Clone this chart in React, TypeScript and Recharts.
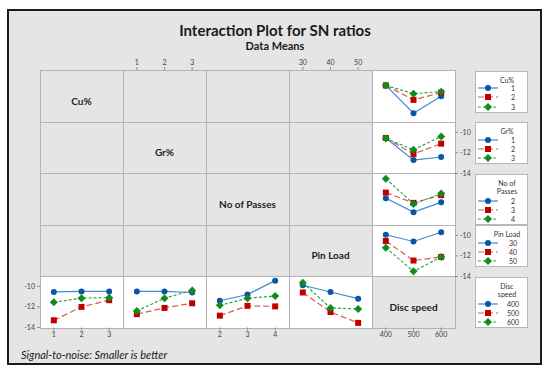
import { Line, LineChart, XAxis, YAxis } from 'recharts'

// factor levels
const discSpeed = [400, 500, 600]
const cuLevels = [1, 2, 3]
const grLevels = [1, 2, 3]
const passLevels = [2, 3, 4]
const pinLevels = [30, 40, 50]
const snTicks = [-10, -12, -14]

const factorNames = ['Cu%', 'Gr%', 'No of Passes', 'Pin Load', 'Disc speed']
const legendTitles = [['Cu%'], ['Gr%'], ['No of', 'Passes'], ['Pin Load'], ['Disc', 'speed']]

// SN ratio means vs disc speed (one row per level of the factor)
const cuBySpeed = [
  [-10.5, -13.2, -11.55],
  [-10.5, -11.9, -11.2],
  [-10.5, -11.3, -11.1],
]
const grBySpeed = [
  [-10.55, -12.7, -12.4],
  [-10.55, -12.1, -11.1],
  [-10.6, -11.7, -10.4],
]
const passBySpeed = [
  [-11.45, -12.8, -11.85],
  [-10.9, -11.9, -11.15],
  [-9.55, -12.0, -11.0],
]
const pinBySpeed = [
  [-9.95, -10.6, -9.7],
  [-10.55, -12.45, -12.1],
  [-11.2, -13.5, -12.1],
]

// SN ratio means vs factor (one row per disc speed)
const speedByCu = [
  [-10.55, -10.5, -10.5],
  [-13.3, -12.0, -11.35],
  [-11.55, -11.15, -11.1],
]
const speedByGr = [
  [-10.5, -10.5, -10.6],
  [-12.7, -12.1, -11.65],
  [-12.4, -11.15, -10.4],
]
const speedByPass = [
  [-11.4, -10.8, -9.45],
  [-12.85, -11.9, -11.95],
  [-11.85, -11.15, -10.95],
]
const speedByPin = [
  [-9.9, -10.55, -11.2],
  [-10.6, -12.5, -13.55],
  [-9.65, -12.1, -12.2],
]

const X0 = 40
const Y0 = 70
const CW = 83
const CH = 51.5
const M = 30
const AX = 20
const AY = 24

const LINE = ['#3b8ad8', '#e05656', '#25a84a']
const MARK = ['#0a55a8', '#c00000', '#118a1e']
const DASH = [undefined, '6 3', '3 2']
const FONT = 'Lato, "Open Sans", sans-serif'

function Marker({ cx, cy, k }: { cx: number; cy: number; k: number }) {
  if (cx == null || cy == null) return null
  if (k === 0) return <circle cx={cx} cy={cy} r={3} fill={MARK[0]} />
  if (k === 1) return <rect x={cx - 3} y={cy - 3} width={6} height={6} fill={MARK[1]} />
  return (
    <polygon
      points={`${cx},${cy - 4} ${cx + 4},${cy} ${cx},${cy + 4} ${cx - 4},${cy}`}
      fill={MARK[2]}
    />
  )
}

type PanelProps = {
  row: number
  col: number
  xs: number[]
  xDomain: [number, number]
  series?: number[][]
  top?: boolean
  bottom?: boolean
  left?: boolean
  right?: boolean
}

function Panel({ row, col, xs, xDomain, series = [], top, bottom, left, right }: PanelProps) {
  const data = xs.map((x, i) => {
    const d: Record<string, number> = { x }
    series.forEach((s, k) => {
      d['s' + k] = s[i]
    })
    return d
  })
  const tick = { fontSize: 7, fill: '#444' }
  return (
    <div style={{ position: 'absolute', left: X0 + col * CW - M, top: Y0 + row * CH - M }}>
      <LineChart
        width={CW + 2 * M}
        height={CH + 2 * M}
        data={data}
        margin={{
          top: M - (top ? AX : 0),
          bottom: M - (bottom ? AX : 0),
          left: M - (left ? AY : 0),
          right: M - (right ? AY : 0),
        }}
      >
        <XAxis
          type='number'
          dataKey='x'
          domain={xDomain}
          ticks={xs}
          interval={0}
          orientation={top ? 'top' : 'bottom'}
          hide={!top && !bottom}
          height={AX}
          tickSize={3}
          axisLine={false}
          tickLine={{ stroke: '#8c8c8c' }}
          tick={tick}
        />
        <YAxis
          type='number'
          domain={[-14, -9]}
          ticks={snTicks}
          interval={0}
          orientation={right ? 'right' : 'left'}
          hide={!left && !right}
          width={AY}
          tickSize={3}
          axisLine={false}
          tickLine={{ stroke: '#8c8c8c' }}
          tick={tick}
        />
        {series.map((_, k) => (
          <Line
            key={k}
            type='linear'
            dataKey={'s' + k}
            stroke={LINE[k]}
            strokeWidth={1.2}
            strokeDasharray={DASH[k]}
            dot={(p: any) => <Marker key={p.index} cx={p.cx} cy={p.cy} k={k} />}
            activeDot={false}
            isAnimationActive={false}
          />
        ))}
      </LineChart>
    </div>
  )
}

function LegendBox({ row, title, levels }: { row: number; title: string[]; levels: number[] }) {
  const entryStart = title.length === 1 ? 16.5 : 26
  return (
    <div
      style={{
        position: 'absolute',
        left: 475,
        top: Y0 + row * CH + 0.5,
        width: 53,
        height: entryStart + 25.5,
        background: '#fff',
        border: '1px solid #b8b8b8',
        boxSizing: 'border-box',
        fontSize: 7,
        color: '#333',
      }}
    >
      {title.map((t, i) => (
        <div
          key={t}
          style={{ position: 'absolute', left: 10, width: 42, top: 8 + i * 8.4 - 5, lineHeight: '10px', textAlign: 'center' }}
        >
          {t}
        </div>
      ))}
      {levels.map((lv, k) => (
        <div key={lv} style={{ position: 'absolute', left: 0, top: entryStart + k * 9.3 - 5, width: 53, height: 10 }}>
          <svg width={22} height={10} style={{ position: 'absolute', left: 1, top: 0 }}>
            <line x1={1} y1={5} x2={21} y2={5} stroke={LINE[k]} strokeWidth={1.2} strokeDasharray={DASH[k]} />
            <Marker cx={11} cy={5} k={k} />
          </svg>
          <span style={{ position: 'absolute', left: 28, width: 18, textAlign: 'center', lineHeight: '10px' }}>{lv}</span>
        </div>
      ))}
    </div>
  )
}

export default function App() {
  const isData = (r: number, c: number) => (c === 4 && r < 4) || (r === 4 && c < 4)
  const cells = []
  for (let r = 0; r < 5; r++) {
    for (let c = 0; c < 5; c++) {
      cells.push(
        <div
          key={`c${r}${c}`}
          style={{
            position: 'absolute',
            left: X0 + c * CW,
            top: Y0 + r * CH,
            width: CW + 1,
            height: CH + 1,
            boxSizing: 'border-box',
            border: '1px solid #b3b3b3',
            background: isData(r, c) ? '#fff' : 'transparent',
          }}
        />
      )
    }
  }
  const levelsList = [cuLevels, grLevels, passLevels, pinLevels, discSpeed]
  return (
    <div style={{ position: 'absolute', left: 0, top: 0, width: 550, height: 375, background: '#fff', fontFamily: FONT }}>
      <div
        style={{
          position: 'absolute',
          left: 7,
          top: 9,
          width: 535,
          height: 356,
          border: '2px solid #1c1c1c',
          background: '#e5e5e5',
          boxSizing: 'border-box',
        }}
      />
      <div style={{ position: 'absolute', left: 0, width: 550, top: 21, lineHeight: '18px', fontSize: 15, fontWeight: 700, textAlign: 'center', color: '#1a1a1a' }}>
        Interaction Plot for SN ratios
      </div>
      <div style={{ position: 'absolute', left: 0, width: 550, top: 39, lineHeight: '14px', fontSize: 11, fontWeight: 700, textAlign: 'center', color: '#1a1a1a' }}>
        Data Means
      </div>
      {cells}
      {factorNames.map((n, i) => (
        <div
          key={n}
          style={{
            position: 'absolute',
            left: X0 + i * CW,
            top: Y0 + i * CH + 5,
            width: CW,
            height: CH,
            display: 'flex',
            alignItems: 'center',
            justifyContent: 'center',
            fontSize: 10,
            fontWeight: 700,
            color: '#222',
          }}
        >
          {n}
        </div>
      ))}

      {/* axis-only cells */}
      <Panel row={0} col={0} xs={cuLevels} xDomain={[0.5, 3.5]} left />
      <Panel row={2} col={0} xs={cuLevels} xDomain={[0.5, 3.5]} left />
      <Panel row={0} col={1} xs={grLevels} xDomain={[0.5, 3.5]} top />
      <Panel row={0} col={3} xs={pinLevels} xDomain={[25, 55]} top />
      <Panel row={4} col={4} xs={discSpeed} xDomain={[350, 650]} bottom />

      {/* factor vs disc speed */}
      <Panel row={0} col={4} xs={discSpeed} xDomain={[350, 650]} series={cuBySpeed} />
      <Panel row={1} col={4} xs={discSpeed} xDomain={[350, 650]} series={grBySpeed} right />
      <Panel row={2} col={4} xs={discSpeed} xDomain={[350, 650]} series={passBySpeed} />
      <Panel row={3} col={4} xs={discSpeed} xDomain={[350, 650]} series={pinBySpeed} right />

      {/* disc speed vs factor */}
      <Panel row={4} col={0} xs={cuLevels} xDomain={[0.5, 3.5]} series={speedByCu} left bottom />
      <Panel row={4} col={1} xs={grLevels} xDomain={[0.5, 3.5]} series={speedByGr} />
      <Panel row={4} col={2} xs={passLevels} xDomain={[1.5, 4.5]} series={speedByPass} bottom />
      <Panel row={4} col={3} xs={pinLevels} xDomain={[25, 55]} series={speedByPin} />

      {legendTitles.map((t, i) => (
        <LegendBox key={i} row={i} title={t} levels={levelsList[i]} />
      ))}

      <div style={{ position: 'absolute', left: 21, top: 348, lineHeight: '14px', fontSize: 11, fontStyle: 'italic', color: '#222' }}>
        Signal-to-noise: Smaller is better
      </div>
    </div>
  )
}
